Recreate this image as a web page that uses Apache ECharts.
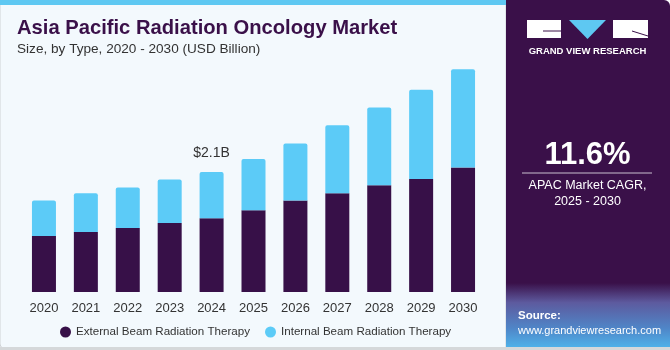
<!DOCTYPE html>
<html>
<head>
<meta charset="utf-8">
<script src="https://cdn.jsdelivr.net/npm/echarts@6/dist/echarts.min.js"></script>
<style>
  html, body { margin: 0; padding: 0; background: #ffffff; }
  #chart { width: 670px; height: 350px; }
</style>
</head>
<body>
<div id="chart"></div>
<script>
const years = ["2020", "2021", "2022", "2023", "2024", "2025", "2026", "2027", "2028", "2029", "2030"];
const externalBeam = [0.98, 1.05, 1.12, 1.21, 1.29, 1.43, 1.6, 1.73, 1.87, 1.98, 2.18];
const internalBeam = [0.62, 0.68, 0.71, 0.76, 0.81, 0.9, 1.0, 1.19, 1.36, 1.56, 1.72];
const barLabels = ["", "", "", "", "$2.1B", "", "", "", "", "", ""];

const purple = "#371048";
const blue = "#5ccbf7";

const chart = echarts.init(document.getElementById("chart"));

chart.setOption({
  backgroundColor: "#ffffff",
  animation: false,
  textStyle: { fontFamily: "Liberation Sans" },
  graphic: [
    // left panel background
    { type: "rect", z: -10, shape: { x: 0, y: 0, width: 506, height: 348, r: [0, 0, 0, 4] },
      style: { fill: "#f3f9fd", stroke: "#cfd3d6", lineWidth: 1 } },
    { type: "rect", z: -9, shape: { x: 0, y: 0, width: 506, height: 5 }, style: { fill: "#5ec8f2" } },
    // right panel
    { type: "rect", z: -10, shape: { x: 506, y: 0, width: 164, height: 348, r: [0, 6, 0, 0] },
      style: { fill: "#3a1049" } },
    { type: "rect", z: -9, shape: { x: 506, y: 283, width: 164, height: 65 },
      style: {
        fill: new echarts.graphic.LinearGradient(0, 0, 0, 1, [
          { offset: 0, color: "#3a1049" },
          { offset: 0.3, color: "#5d5a9e" },
          { offset: 0.7, color: "#4f86c8" },
          { offset: 1, color: "#4fb3ea" }
        ])
      } },
    { type: "rect", z: -9, shape: { x: 0, y: 347, width: 670, height: 3 }, style: { fill: "#d5d8da" } },
    // logo
    { type: "rect", shape: { x: 527, y: 20, width: 34, height: 18 }, style: { fill: "#ffffff" } },
    { type: "line", shape: { x1: 543, y1: 31, x2: 561, y2: 31 }, style: { stroke: "#3a1049", lineWidth: 1 } },
    { type: "polygon", shape: { points: [[569, 20], [606, 20], [587.5, 39]] }, style: { fill: "#5ec8f2" } },
    { type: "rect", shape: { x: 613, y: 20, width: 35, height: 18 }, style: { fill: "#ffffff" } },
    { type: "line", shape: { x1: 632, y1: 31, x2: 648, y2: 36 }, style: { stroke: "#3a1049", lineWidth: 1 } },
    { type: "text", style: { x: 587.5, y: 51, text: "GRAND VIEW RESEARCH", fill: "#ffffff",
      font: "bold 9.5px Liberation Sans", align: "center", verticalAlign: "middle" } },
    // CAGR
    { type: "text", style: { x: 587.5, y: 155, text: "11.6%", fill: "#ffffff",
      font: "bold 31px Liberation Sans", align: "center", verticalAlign: "middle" } },
    { type: "line", shape: { x1: 522, y1: 173, x2: 652, y2: 173 }, style: { stroke: "#c9bfd0", lineWidth: 1 } },
    { type: "text", style: { x: 587.5, y: 186, text: "APAC Market CAGR,", fill: "#ffffff",
      font: "12.5px Liberation Sans", align: "center", verticalAlign: "middle" } },
    { type: "text", style: { x: 587.5, y: 202, text: "2025 - 2030", fill: "#ffffff",
      font: "12.5px Liberation Sans", align: "center", verticalAlign: "middle" } },
    // source
    { type: "text", style: { x: 518, y: 316, text: "Source:", fill: "#ffffff",
      font: "bold 11.5px Liberation Sans", verticalAlign: "middle" } },
    { type: "text", style: { x: 518, y: 331, text: "www.grandviewresearch.com", fill: "#ffffff",
      font: "11px Liberation Sans", verticalAlign: "middle" } },
    // titles
    { type: "text", style: { x: 17, y: 28, text: "Asia Pacific Radiation Oncology Market", fill: "#3a1049",
      font: "bold 20.2px Liberation Sans", verticalAlign: "middle" } },
    { type: "text", style: { x: 17, y: 49, text: "Size, by Type, 2020 - 2030 (USD Billion)", fill: "#333333",
      font: "13.6px Liberation Sans", verticalAlign: "middle" } }
  ],
  legend: {
    left: 55,
    top: 321,
    icon: "circle",
    itemWidth: 11,
    itemHeight: 11,
    itemGap: 15,
    textStyle: { color: "#333333", fontSize: 11.6, fontFamily: "Liberation Sans" },
    data: ["External Beam Radiation Therapy", "Internal Beam Radiation Therapy"]
  },
  grid: { left: 23, right: 186, top: 35, bottom: 58, containLabel: false },
  xAxis: {
    type: "category",
    data: years,
    axisLine: { show: false },
    axisTick: { show: false },
    axisLabel: { color: "#333333", fontSize: 13, margin: 10, fontFamily: "Liberation Sans" }
  },
  yAxis: {
    type: "value",
    min: 0,
    max: 4.5,
    show: false,
    splitLine: { show: false }
  },
  series: [
    {
      name: "External Beam Radiation Therapy",
      type: "bar",
      stack: "total",
      barWidth: 24,
      itemStyle: { color: purple },
      data: externalBeam
    },
    {
      name: "Internal Beam Radiation Therapy",
      type: "bar",
      stack: "total",
      barWidth: 24,
      itemStyle: { color: blue, borderRadius: [2, 2, 0, 0] },
      label: {
        show: true,
        position: "top",
        distance: 12,
        color: "#333333",
        fontSize: 14,
        fontFamily: "Liberation Sans",
        formatter: (p) => barLabels[p.dataIndex]
      },
      data: internalBeam
    }
  ]
});
</script>
</body>
</html>
